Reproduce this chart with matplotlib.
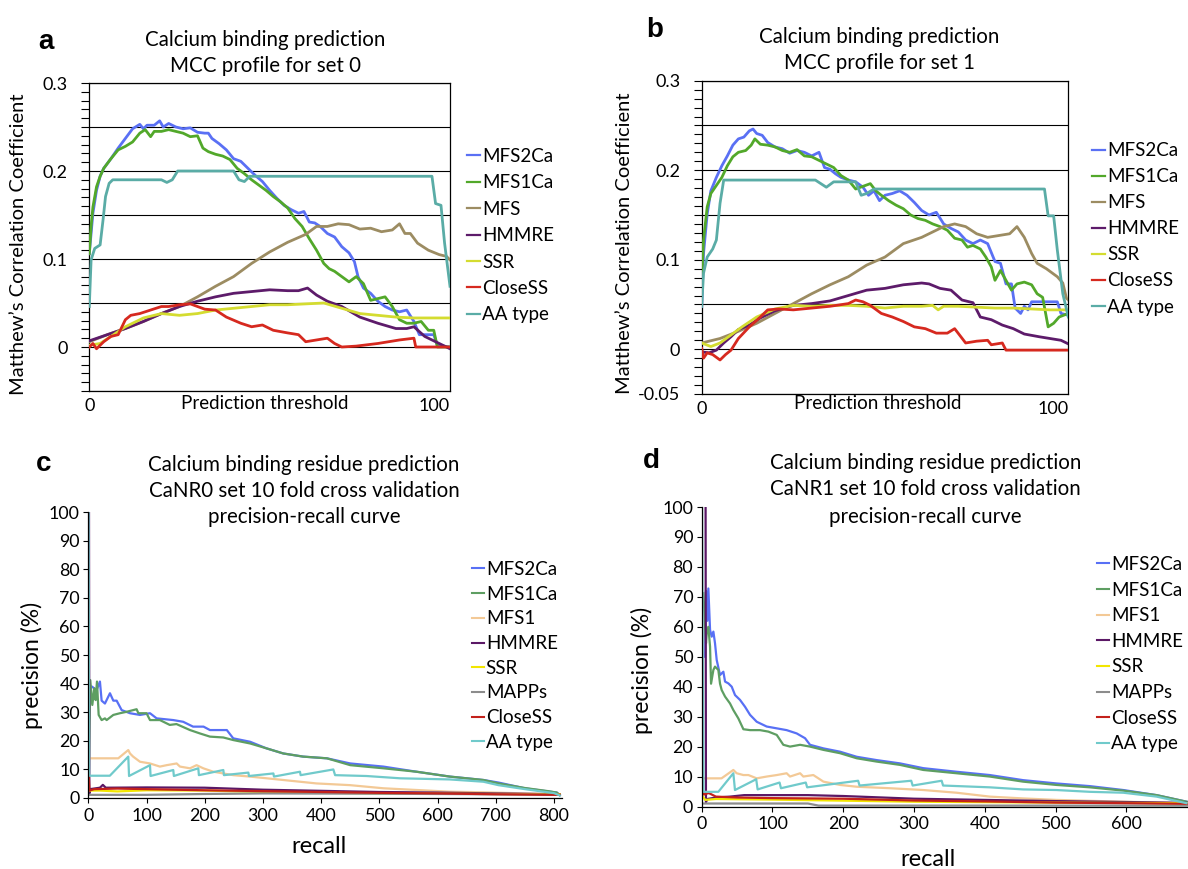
import numpy as np
import matplotlib
matplotlib.use("Agg")
import matplotlib.pyplot as plt

plt.rcParams["font.family"] = ["Lato", "DejaVu Sans"]

# --- Panel a: MCC profile for set 0 (x = prediction threshold) -------------
A_MFS2CA_X = [0, 1, 2, 3, 4, 6, 8, 10, 12, 14, 15, 16, 18, 19.5, 20.5, 22, 24, 26, 28, 30,
              32, 33, 34, 36, 38, 40, 42, 44, 46, 48, 50, 52, 54, 56, 58, 59.5, 61, 62.5, 64, 66,
              68, 70, 72, 73.5, 74.5, 76, 78, 80, 82, 84, 86, 88, 90, 91.5, 94, 95.5, 96.5, 100]
A_MFS2CA_Y = [0.106, 0.152, 0.178, 0.194, 0.203, 0.214, 0.226, 0.237, 0.248, 0.253, 0.248, 0.252,
              0.252, 0.257, 0.250, 0.254, 0.250, 0.248, 0.249, 0.244, 0.243, 0.243, 0.237, 0.231,
              0.224, 0.214, 0.211, 0.203, 0.195, 0.188, 0.178, 0.169, 0.161, 0.156, 0.152, 0.154,
              0.142, 0.141, 0.137, 0.129, 0.125, 0.114, 0.107, 0.097, 0.080, 0.067, 0.061, 0.052,
              0.046, 0.042, 0.040, 0.042, 0.029, 0.014, 0.014, 0.014, 0.002, 0.000]
A_MFS1CA_X = [0, 0.5, 1, 2, 3, 4, 6, 8, 10, 12, 14, 15.5, 17, 18, 20, 22, 24, 26, 28, 30,
              31.5, 33, 35, 37, 39, 41, 43, 45, 47, 49, 51, 53, 55, 57, 59, 61, 63, 65, 66.5, 68,
              70, 72, 74, 76, 78, 80, 82, 84, 86, 88, 90, 92, 94, 95.5, 96.5, 100]
A_MFS1CA_Y = [0.106, 0.137, 0.159, 0.182, 0.194, 0.203, 0.214, 0.224, 0.228, 0.233, 0.243, 0.247,
              0.239, 0.245, 0.245, 0.247, 0.245, 0.243, 0.239, 0.240, 0.226, 0.222, 0.219, 0.217,
              0.213, 0.203, 0.197, 0.190, 0.184, 0.178, 0.171, 0.165, 0.158, 0.146, 0.137, 0.123,
              0.110, 0.095, 0.089, 0.086, 0.080, 0.074, 0.080, 0.072, 0.053, 0.055, 0.057, 0.046,
              0.031, 0.027, 0.027, 0.029, 0.019, 0.019, 0.000, 0.000]
A_MFS_X = [0, 5, 10, 15, 20, 25, 30, 35, 40, 45, 50, 55, 60, 63, 66, 69, 72, 75, 78, 81,
           84, 86, 87.5, 89, 91, 94, 97, 99, 100]
A_MFS_Y = [0.006, 0.014, 0.021, 0.029, 0.038, 0.046, 0.057, 0.069, 0.080, 0.095, 0.108, 0.119,
           0.128, 0.137, 0.137, 0.140, 0.139, 0.134, 0.135, 0.131, 0.133, 0.140, 0.129, 0.129,
           0.118, 0.110, 0.105, 0.103, 0.099]
A_HMMRE_X = [0, 5, 10, 15, 20, 25, 30, 35, 40, 45, 50, 55, 58, 60.5, 63, 66, 70, 75, 80, 85,
             88, 90, 93, 97, 100]
A_HMMRE_Y = [0.007, 0.014, 0.021, 0.029, 0.038, 0.046, 0.052, 0.057, 0.061, 0.063, 0.065, 0.064,
             0.064, 0.067, 0.059, 0.052, 0.046, 0.034, 0.027, 0.021, 0.021, 0.023, 0.012, 0.004,
             -0.002]
A_SSR_X = [0, 3, 6, 10, 15, 20, 25, 30, 35, 40, 45, 50, 55, 60, 65, 70, 75, 80, 85, 90, 95, 100]
A_SSR_Y = [0.002, 0.004, 0.012, 0.023, 0.033, 0.038, 0.036, 0.038, 0.042, 0.044, 0.046, 0.048,
           0.048, 0.049, 0.050, 0.044, 0.038, 0.036, 0.034, 0.033, 0.033, 0.033]
A_CLOSESS_X = [0, 1, 2, 4, 6, 8, 10, 11.5, 14, 17, 20, 22, 25, 28, 30, 32, 35, 38, 42, 45,
               48, 51, 55, 58, 60, 63, 66, 68, 70, 74, 80, 86, 90, 90.5, 100]
A_CLOSESS_Y = [0.000, 0.004, -0.002, 0.006, 0.012, 0.014, 0.031, 0.036, 0.038, 0.042, 0.046,
               0.046, 0.048, 0.049, 0.046, 0.043, 0.042, 0.034, 0.027, 0.023, 0.025, 0.019,
               0.016, 0.014, 0.006, 0.008, 0.010, 0.004, 0.000, 0.001, 0.004, 0.008, 0.010,
               0.000, 0.000]
A_AATYPE_X = [0, 0.5, 1.5, 3, 3.8, 4.5, 5.5, 6.5, 20, 21.5, 23, 24.5, 40, 41.5, 43, 44.5, 47,
              95, 96, 97.5, 98.5, 100]
A_AATYPE_Y = [0.046, 0.099, 0.112, 0.116, 0.144, 0.171, 0.186, 0.190, 0.190, 0.187, 0.190, 0.200,
              0.200, 0.190, 0.188, 0.194, 0.194, 0.194, 0.163, 0.161, 0.118, 0.069]

# --- Panel b: MCC profile for set 1 ------------------------------------------
B_MFS2CA_X = [0, 0.5, 1.5, 2.5, 4, 5.5, 7, 8.5, 10, 11.5, 13, 14, 15, 16.5, 18, 20, 22, 24, 26, 28,
              30, 32, 33.5, 35, 36.5, 38, 40, 42, 44, 45.5, 47, 48.5, 50, 52, 54, 56, 58, 60, 62, 64,
              66, 68, 70, 72, 74, 76, 78, 80, 81.5, 83, 84.5, 85.5, 87, 88, 89, 90, 94, 97, 98, 100]
B_MFS2CA_Y = [0.048, 0.107, 0.151, 0.177, 0.192, 0.205, 0.216, 0.228, 0.235, 0.237, 0.244, 0.246,
              0.241, 0.239, 0.231, 0.226, 0.224, 0.219, 0.222, 0.220, 0.216, 0.220, 0.203, 0.201,
              0.196, 0.192, 0.189, 0.187, 0.181, 0.172, 0.177, 0.166, 0.172, 0.174, 0.177, 0.172,
              0.164, 0.155, 0.150, 0.153, 0.140, 0.135, 0.131, 0.122, 0.118, 0.122, 0.118, 0.098,
              0.096, 0.073, 0.073, 0.046, 0.040, 0.048, 0.044, 0.053, 0.053, 0.053, 0.040, 0.038]
B_MFS1CA_X = [0, 0.5, 1.5, 2.5, 4, 5.5, 7, 8.5, 10, 12, 13.5, 14.5, 16, 18, 20, 22, 24, 26, 28, 30,
              32, 34, 36, 38, 40, 42, 44, 46, 47.5, 49, 51, 53, 55, 57, 59, 61, 63, 65, 67, 69,
              71, 72.5, 74, 76, 77.5, 79, 80, 81.5, 83, 84.5, 86, 88, 90, 91.5, 93, 94.5, 96, 97.5, 100]
B_MFS1CA_Y = [0.077, 0.122, 0.159, 0.174, 0.183, 0.192, 0.205, 0.215, 0.220, 0.222, 0.228, 0.235,
              0.229, 0.228, 0.226, 0.222, 0.220, 0.223, 0.216, 0.215, 0.211, 0.207, 0.203, 0.194,
              0.189, 0.179, 0.182, 0.185, 0.177, 0.172, 0.166, 0.161, 0.157, 0.150, 0.146, 0.144,
              0.140, 0.137, 0.133, 0.124, 0.122, 0.114, 0.116, 0.112, 0.103, 0.092, 0.077, 0.088,
              0.077, 0.066, 0.073, 0.075, 0.072, 0.062, 0.058, 0.025, 0.029, 0.036, 0.040]
B_MFS_X = [0, 5, 10, 15, 20, 25, 30, 35, 40, 45, 50, 55, 60, 63, 66, 69, 72, 75, 78, 81,
           84, 86, 88, 90, 91.5, 94, 97, 98.5, 99.5, 100]
B_MFS_Y = [0.007, 0.012, 0.020, 0.029, 0.040, 0.051, 0.062, 0.072, 0.081, 0.094, 0.103, 0.118,
           0.125, 0.131, 0.137, 0.140, 0.137, 0.129, 0.125, 0.127, 0.129, 0.137, 0.125, 0.107,
           0.096, 0.090, 0.081, 0.074, 0.057, 0.055]
B_HMMRE_X = [0, 2, 4, 6, 8, 10, 13, 16, 20, 25, 30, 35, 40, 45, 50, 55, 60, 62, 65, 68,
             71, 74, 76, 79, 82, 85, 88, 92, 95, 98, 100]
B_HMMRE_Y = [-0.003, -0.004, -0.001, 0.007, 0.014, 0.022, 0.027, 0.035, 0.043, 0.049, 0.051,
             0.054, 0.060, 0.066, 0.068, 0.072, 0.074, 0.073, 0.068, 0.066, 0.055, 0.052, 0.036,
             0.033, 0.027, 0.023, 0.017, 0.014, 0.012, 0.010, 0.006]
B_SSR_X = [0, 2.5, 5, 8, 11, 15, 20, 25, 30, 35, 40, 45, 50, 55, 60, 63, 64.5, 66, 70, 75,
           80, 85, 90, 95, 100]
B_SSR_Y = [0.007, 0.003, 0.007, 0.016, 0.025, 0.036, 0.045, 0.049, 0.048, 0.049, 0.049, 0.048,
           0.046, 0.048, 0.048, 0.049, 0.044, 0.048, 0.048, 0.047, 0.046, 0.046, 0.045, 0.044,
           0.044]
B_CLOSESS_X = [0, 0.5, 1.5, 3, 5, 6.5, 8, 10, 13, 16, 18, 21, 25, 30, 35, 40, 42, 44, 46, 49,
               52, 55, 58, 61, 64, 67, 69, 72, 75, 78, 79, 82, 83, 100]
B_CLOSESS_Y = [0.001, -0.010, -0.004, -0.006, -0.012, -0.006, -0.001, 0.012, 0.025, 0.036,
               0.044, 0.045, 0.044, 0.046, 0.048, 0.051, 0.055, 0.053, 0.049, 0.040, 0.036,
               0.031, 0.025, 0.023, 0.018, 0.018, 0.023, 0.007, 0.009, 0.010, 0.005, 0.007,
               -0.001, -0.001]
B_AATYPE_X = [0, 0.5, 1.5, 3, 4, 5, 6, 31, 34, 36, 42, 43.5, 45, 47, 93.5, 94.5, 96, 97, 98.5, 100]
B_AATYPE_Y = [0.048, 0.085, 0.103, 0.112, 0.122, 0.163, 0.189, 0.189, 0.181, 0.187, 0.187, 0.172,
              0.174, 0.179, 0.179, 0.149, 0.149, 0.111, 0.062, 0.036]

# --- Panel c: CaNR0 precision-recall (x = recall, y = precision %) ------------
C_MFS2CA_X = [1, 3, 5.7, 14.3, 20, 22.9, 28.6, 37.2, 43, 48.7, 57.3, 71.6, 88.8, 106, 117.4, 146,
              163, 180, 198, 209, 238, 249, 278, 306, 335, 369, 410, 450, 507, 564, 621, 679,
              705, 750, 790, 805, 810]
C_MFS2CA_Y = [27, 38, 39, 37.7, 40.7, 34, 33, 36.6, 34, 34, 30.7, 29.6, 29, 29.6, 27.8, 27.2,
              26.6, 24.9, 24.9, 23.7, 23.7, 20.8, 19.6, 17.3, 15.5, 14.4, 13.8, 12, 10.9, 9.1,
              7.4, 6.2, 5.3, 3.3, 2.2, 1.8, 0.9]
C_MFS1CA_X = [1, 3.4, 6.9, 10.3, 12.6, 14.9, 17.8, 22.9, 28.6, 31.5, 43, 54.4, 65.9, 83, 86, 100,
              106, 123, 140, 151.5, 174.7, 192, 209, 232, 249, 278, 306, 335, 369, 410, 450, 507,
              564, 621, 679, 705, 750, 790, 805, 810]
C_MFS1CA_Y = [8, 41.2, 32.5, 38.3, 34.2, 40.7, 29, 27.2, 27.8, 27.2, 29, 29.6, 30.1, 31, 29.6,
              29.6, 27.2, 27.2, 25.5, 25.8, 23.7, 22.5, 21.4, 21.1, 20.2, 19, 17.3, 15.5, 14.4,
              13.8, 11.4, 10.3, 9.1, 7.4, 6.2, 5.0, 3.4, 2.3, 1.8, 0.9]
C_MFS1_X = [1.7, 51.5, 68.7, 71.6, 77, 88.8, 106, 123, 134.6, 151.8, 157.5, 174.7, 186, 197.6,
            214.8, 249, 277.8, 335, 392, 449.6, 507, 564, 621, 679, 750, 810]
C_MFS1_Y = [13.8, 13.8, 16.7, 15.5, 14.4, 12.6, 12, 10.9, 11.4, 12, 10.9, 10.3, 11.4, 10.3, 9.1,
            7.9, 7.4, 6.2, 5.0, 4.4, 3.3, 2.7, 2.1, 1.9, 1.5, 1.2]
C_HMMRE_X = [1.2, 1.8, 3, 20, 25, 30, 100, 200, 300, 400, 500, 600, 700, 810]
C_HMMRE_Y = [100, 1.5, 3, 3.5, 4.5, 3.5, 3.6, 3.5, 2.8, 2.4, 2.0, 1.8, 1.5, 1.2]
C_SSR_X = [1, 20, 50, 100, 200, 300, 500, 700, 810]
C_SSR_Y = [2.5, 2.5, 2.2, 2.6, 2.5, 2.0, 1.5, 1.3, 1.2]
C_MAPPS_X = [1, 100, 200, 300, 500, 700, 810]
C_MAPPS_Y = [1.0, 1.0, 1.3, 1.5, 1.4, 1.2, 1.0]
C_CLOSESS_X = [0.5, 2, 10, 50, 100, 200, 300, 400, 500, 600, 700, 810]
C_CLOSESS_Y = [9, 2.5, 3.0, 3.2, 3.0, 2.6, 2.3, 2.0, 1.7, 1.5, 1.2, 1.0]
C_AATYPE_X = [0.5, 1.5, 37, 68.7, 70, 106, 107, 146, 147, 189, 190, 232, 233, 275, 276, 318, 319,
              363.7, 364.8, 421, 424, 478, 535.5, 621, 678.7, 704.5, 750, 800, 810]
C_AATYPE_Y = [100, 7.7, 7.7, 14.4, 7.6, 11.4, 7.6, 9.7, 7.6, 10.3, 7.9, 9.7, 7.9, 8.8, 7.6, 8.5,
              7.4, 9.1, 7.9, 9.9, 7.9, 7.6, 6.8, 6.4, 5.6, 4.4, 3.0, 1.6, 0.8]

# --- Panel d: CaNR1 precision-recall ---------------------------------------
D_MFS2CA_X = [5, 6.1, 8, 9.4, 11.8, 14.1, 16.5, 18.8, 21.2, 25.9, 30.6, 33, 37.7, 42.4, 47.1, 54.1,
              61.2, 68.3, 77.7, 91.8, 105.9, 120, 134.2, 146, 153, 172, 195.4, 219, 247, 280, 313,
              360, 407, 454, 501, 548.5, 595.6, 642.6, 685]
D_MFS2CA_Y = [50, 72, 62, 72.8, 59, 56.7, 58.4, 54.5, 48.9, 43.9, 45, 41.7, 41.1, 40, 37.2, 35.6,
              33.3, 30.6, 28.3, 26.7, 26.1, 25.5, 24.4, 22.8, 20.6, 19.4, 18.3, 16.6, 15.5, 14.4,
              12.8, 11.6, 10.5, 8.8, 7.7, 6.8, 5.5, 3.8, 1.6]
D_MFS1CA_X = [2.4, 6.1, 7.1, 9.4, 11.8, 13.2, 16.5, 18.8, 23.5, 25.9, 28.2, 33, 40, 44.7, 51.8,
              58.9, 68.3, 82.4, 94.2, 106, 115.3, 124.8, 139, 153, 172, 195.4, 219, 247, 280, 313,
              360, 407, 454, 501, 548.5, 595.6, 642.6, 685]
D_MFS1CA_Y = [71.2, 54.5, 57.8, 60, 53.4, 41, 45.6, 46.7, 45.6, 41, 38.9, 36.7, 34.4, 32.2, 29.4,
              25.8, 25.5, 25.5, 25, 23.9, 20.6, 20, 20.6, 20, 18.9, 17.8, 16.1, 15, 13.9, 12.2,
              11.1, 10, 8.3, 7.2, 6.4, 5.3, 3.8, 1.6]
D_MFS1_X = [2.4, 28, 44.7, 49.4, 58.9, 66, 77.7, 91.8, 106, 120, 124.8, 139, 143.6, 157.7, 172,
            195.4, 219, 266, 313, 360, 407, 454, 501, 548.5, 595.6, 685]
D_MFS1_Y = [9.4, 9.4, 12.2, 11.1, 10.5, 10.5, 9.4, 10, 10.5, 11.1, 10, 11.1, 10, 10.5, 8.3, 7.2,
            6.6, 6.1, 5.5, 4.6, 3.3, 2.7, 2.2, 1.9, 1.6, 1.1]
D_HMMRE_X = [5.5, 6, 8, 20, 40, 60, 100, 150, 200, 300, 400, 500, 600, 687]
D_HMMRE_Y = [100, 1.5, 2.5, 3.0, 3.3, 3.8, 3.8, 3.8, 3.5, 2.6, 2.2, 1.8, 1.5, 1.2]
D_SSR_X = [1, 5, 20, 100, 300, 500, 687]
D_SSR_Y = [3.5, 2.2, 2.5, 2.3, 1.6, 1.3, 1.1]
D_MAPPS_X = [1, 150, 165, 300, 500, 687]
D_MAPPS_Y = [1.0, 1.0, 0.3, 0.3, 0.3, 0.3]
D_CLOSESS_X = [1, 3, 10, 20, 50, 100, 200, 300, 400, 500, 600, 687]
D_CLOSESS_Y = [6, 4, 4.5, 3.3, 3.0, 2.8, 2.6, 2.0, 1.7, 1.3, 1.1, 0.9]
D_AATYPE_X = [0.5, 2.4, 23.5, 44.7, 47, 77, 79, 110, 112, 147, 149, 221, 223, 296, 298, 339, 341,
              407, 454, 501, 548.5, 595.6, 642.6, 685]
D_AATYPE_Y = [100, 4.9, 4.9, 11.1, 5.5, 9.1, 5.7, 8.0, 6.1, 8.0, 6.4, 8.6, 7.0, 8.6, 7.0, 8.6, 7.0,
              6.4, 5.7, 5.5, 4.9, 4.6, 3.3, 1.1]

MCC_NAMES = ["MFS2Ca", "MFS1Ca", "MFS", "HMMRE", "SSR", "CloseSS", "AA type"]
PR_NAMES = ["MFS2Ca", "MFS1Ca", "MFS1", "HMMRE", "SSR", "MAPPs", "CloseSS", "AA type"]
MCC_TICKS = [-0.05, 0, 0.05, 0.1, 0.15, 0.2, 0.25, 0.3]
A_TICKLABELS = ["", "0", "", "0.1", "", "0.2", "", "0.3"]
B_TICKLABELS = ["-0.05", "0", "", "0.1", "", "0.2", "", "0.3"]

MCC_COLORS = ["#5A70F4", "#52A82A", "#9C8C62", "#5D1B6A", "#D4DC30", "#D6291F", "#5AACA6"]
PR_COLORS = ["#5870F5", "#5E9E62", "#F3C996", "#5B1866", "#F2E600", "#8C8C8C", "#C3211B", "#70CACB"]

W, H = 1188, 869
fig = plt.figure(figsize=(W / 100, H / 100), dpi=100)


def fx(px):
    return px / W


def fy(py):
    return 1 - py / H


def rect(left, top, right, bottom):
    return [fx(left), fy(bottom), (right - left) / W, (bottom - top) / H]


def put(x, y, s, **kw):
    kw.setdefault("ha", "center")
    kw.setdefault("va", "center")
    fig.text(fx(x), fy(y), s, **kw)


def draw_mcc(ax, xs, ys, ticklabels, leg_xy, leg_space):
    for name, x, y, c in zip(MCC_NAMES, xs, ys, MCC_COLORS):
        ax.plot(x, y, color=c, lw=2.0, label=name, zorder=3)
    ax.set_xlim(0, 100)
    ax.set_ylim(-0.05, 0.3)
    ax.set_xticks([0, 100], ["0", "100"])
    for lbl, ha in zip(ax.get_xticklabels(), ["center", "right"]):
        lbl.set_ha(ha)
    ax.tick_params(axis="x", length=0, pad=5, labelsize=13)
    ax.set_yticks(MCC_TICKS, ticklabels)
    ax.set_yticks(np.arange(-0.05, 0.3001, 0.01), minor=True)
    ax.tick_params(axis="y", which="both", direction="out", length=5.5, width=0.8,
                   pad=10, labelsize=13)
    ax.grid(axis="y", which="major", color="black", lw=0.8)
    ax.set_axisbelow(True)
    for s in ax.spines.values():
        s.set_linewidth(0.9)
    leg = ax.legend(loc="upper left", bbox_to_anchor=(fx(leg_xy[0]), fy(leg_xy[1])),
                    bbox_transform=fig.transFigure, frameon=False, fontsize=13.5,
                    handlelength=0.7, handletextpad=0.1, labelspacing=leg_space,
                    borderpad=0, borderaxespad=0)
    for ln in leg.get_lines():
        ln.set_linewidth(1.6)


def draw_pr(ax, xs, ys, xmax, leg_xy, leg_space):
    for name, x, y, c in zip(PR_NAMES, xs, ys, PR_COLORS):
        ax.plot(x, y, color=c, lw=1.6, label=name)
    ax.set_xlim(0, xmax)
    ax.set_ylim(0, 100)
    ax.set_xticks(np.arange(0, xmax + 1, 100))
    ax.set_yticks(np.arange(0, 101, 10))
    ax.spines["top"].set_visible(False)
    ax.spines["right"].set_visible(False)
    for s in ("left", "bottom"):
        ax.spines[s].set_linewidth(0.9)
    ax.tick_params(direction="out", length=3.6, width=0.8, labelsize=12.8)
    ax.tick_params(axis="y", pad=2.5)
    ax.tick_params(axis="x", pad=3.5)
    leg = ax.legend(loc="upper left", bbox_to_anchor=(fx(leg_xy[0]), fy(leg_xy[1])),
                    bbox_transform=fig.transFigure, frameon=False, fontsize=13.5,
                    handlelength=0.65, handletextpad=0.1, labelspacing=leg_space,
                    borderpad=0, borderaxespad=0)
    for ln in leg.get_lines():
        ln.set_linewidth(1.5)


ax_a = fig.add_axes(rect(89.3, 83, 450, 391))
draw_mcc(ax_a,
         [A_MFS2CA_X, A_MFS1CA_X, A_MFS_X, A_HMMRE_X, A_SSR_X, A_CLOSESS_X, A_AATYPE_X],
         [A_MFS2CA_Y, A_MFS1CA_Y, A_MFS_Y, A_HMMRE_Y, A_SSR_Y, A_CLOSESS_Y, A_AATYPE_Y],
         A_TICKLABELS, (467, 148), 0.5)

ax_b = fig.add_axes(rect(701.7, 80.7, 1068.3, 394))
draw_mcc(ax_b,
         [B_MFS2CA_X, B_MFS1CA_X, B_MFS_X, B_HMMRE_X, B_SSR_X, B_CLOSESS_X, B_AATYPE_X],
         [B_MFS2CA_Y, B_MFS1CA_Y, B_MFS_Y, B_HMMRE_Y, B_SSR_Y, B_CLOSESS_Y, B_AATYPE_Y],
         B_TICKLABELS, (1092, 142.5), 0.48)

ax_c = fig.add_axes(rect(88.3, 512.3, 561.5, 797.7))
draw_pr(ax_c,
        [C_MFS2CA_X, C_MFS1CA_X, C_MFS1_X, C_HMMRE_X, C_SSR_X, C_MAPPS_X, C_CLOSESS_X, C_AATYPE_X],
        [C_MFS2CA_Y, C_MFS1CA_Y, C_MFS1_Y, C_HMMRE_Y, C_SSR_Y, C_MAPPS_Y, C_CLOSESS_Y, C_AATYPE_Y],
        813, (471.7, 561), 0.41)

ax_d = fig.add_axes(rect(701.7, 507, 1188, 806.5))
draw_pr(ax_d,
        [D_MFS2CA_X, D_MFS1CA_X, D_MFS1_X, D_HMMRE_X, D_SSR_X, D_MAPPS_X, D_CLOSESS_X, D_AATYPE_X],
        [D_MFS2CA_Y, D_MFS1CA_Y, D_MFS1_Y, D_HMMRE_Y, D_SSR_Y, D_MAPPS_Y, D_CLOSESS_Y, D_AATYPE_Y],
        687, (1097, 556), 0.46)

# panel letters
letter = dict(fontsize=20, fontweight="bold", family="Liberation Sans", ha="left", va="baseline")
put(38.5, 49.3, "a", **letter)
put(646.6, 37.3, "b", **letter)
put(35.8, 470.7, "c", **letter)
put(642.9, 468.3, "d", **letter)

# titles
TITLE_FS = 14.8
put(265, 40, "Calcium binding prediction", fontsize=TITLE_FS)
put(265, 66, "MCC profile for set 0", fontsize=TITLE_FS)
put(879, 37.3, "Calcium binding prediction", fontsize=TITLE_FS)
put(879, 63.3, "MCC profile for set 1", fontsize=TITLE_FS)
put(304, 465, "Calcium binding residue prediction", fontsize=TITLE_FS)
put(304, 490.7, "CaNR0 set 10 fold cross validation", fontsize=TITLE_FS)
put(304, 517.3, "precision-recall curve", fontsize=TITLE_FS)
put(925.7, 462.7, "Calcium binding residue prediction", fontsize=TITLE_FS)
put(925.7, 489.3, "CaNR1 set 10 fold cross validation", fontsize=TITLE_FS)
put(925.7, 517.3, "precision-recall curve", fontsize=TITLE_FS)

# axis labels
put(18.7, 244, "Matthew\u2019s Correlation Coefficient", fontsize=14.5, rotation=90)
put(624, 243, "Matthew\u2019s Correlation Coefficient", fontsize=14.5, rotation=90)
put(265, 403.3, "Prediction threshold", fontsize=13.5)
put(878, 403, "Prediction threshold", fontsize=13.5)
put(32, 665, "precision (%)", fontsize=16.5, rotation=90)
put(641.8, 670, "precision (%)", fontsize=16.5, rotation=90)
put(319, 846.7, "recall", fontsize=17)
put(927.5, 860, "recall", fontsize=17)

fig.savefig("out.png", dpi=100)
